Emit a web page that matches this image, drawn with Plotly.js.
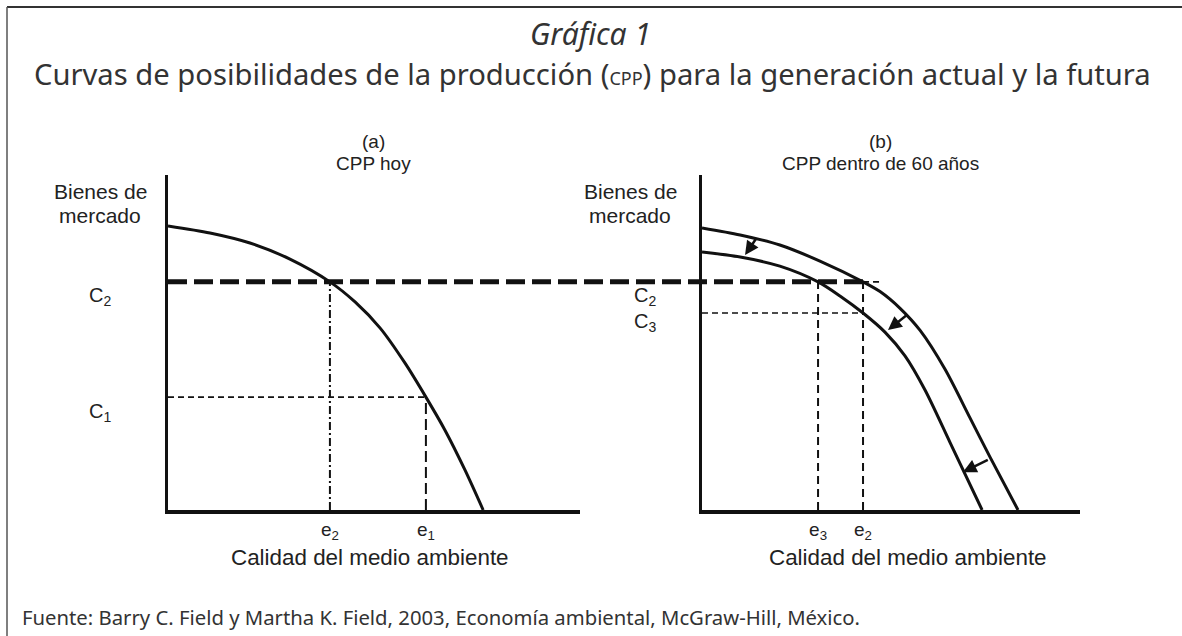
<!DOCTYPE html>
<html>
<head>
<meta charset="utf-8">
<script src="https://cdn.plot.ly/plotly-3.0.1.min.js"></script>
<style>html,body{margin:0;padding:0;background:#fff;}#chart{width:1182px;height:636px;}</style>
</head>
<body>
<div id="chart"></div>
<script>
// ---------- DATA ----------
// Panel (a): CPP hoy
const leftX = [0, 1.02, 1.99, 2.96, 3.93, 4.54, 5.15, 5.75, 6.26, 6.72, 7.21, 7.65];
const leftY = [8.48, 8.27, 7.97, 7.49, 6.81, 6.21, 5.43, 4.39, 3.37, 2.39, 1.19, 0];
const C2 = 6.81, C1 = 3.37;
const e2 = 3.93, e1 = 6.26;

// Panel (b): CPP dentro de 60 años
const outerX = [0, 1.01, 2.06, 3.12, 4.26, 4.71, 5.24, 5.77, 6.43, 7.09, 7.62, 8.36];
const outerY = [8.42, 8.21, 7.91, 7.43, 6.81, 6.52, 6.02, 5.36, 4.20, 2.75, 1.58, 0];
const innerX = [0, 1.01, 2.06, 3.07, 3.65, 4.26, 4.84, 5.37, 5.90, 6.56, 7.41];
const innerY = [7.70, 7.55, 7.28, 6.81, 6.39, 5.88, 5.31, 4.60, 3.58, 2.02, 0];
const C3 = 5.88;
const e3 = 3.07, e2b = 4.26;
const c2ExtEnd = 4.72;

// Shift arrows (tail -> head)
const arrowTailX = [1.46, 5.45, 7.60];
const arrowTailY = [8.15, 5.85, 1.52];
const arrowHeadX = [1.14, 4.92, 6.90];
const arrowHeadY = [7.61, 5.37, 1.13];

// Text
const titleTop = 'Gráfica 1';
const titleMain = 'Curvas de posibilidades de la producción (<span style="font-size:18px">CPP</span>) para la generación actual y la futura';
const panelTags = ['(a)', '(b)'];
const panelTitles = ['CPP hoy', 'CPP dentro de 60 años'];
const yLabelLines = ['Bienes de', 'mercado'];
const xLabel = 'Calidad del medio ambiente';
const leftTicks = ['e<sub>2</sub>', 'e<sub>1</sub>'];
const rightTicks = ['e<sub>3</sub>', 'e<sub>2</sub>'];
const source = 'Fuente: Barry C. Field y Martha K. Field, 2003, Economía ambiental, McGraw-Hill, México.';

// ---------- LAYOUT ----------
const W = 1182, H = 636;
const px = v => v / W;
const py = v => 1 - v / H;
const ink = '#111';
const chartFont = 'Liberation Sans, Arial, sans-serif';
const titleFont = 'Noto Sans, sans-serif';

const xDomL = [px(168), px(580)];
const xDomR = [px(702), px(1080)];
const yDom = [py(510), py(175)];
const xRange = [0, 10], yRange = [0, 10];

function paperX(dom, rng, v) {
  return dom[0] + (v - rng[0]) / (rng[1] - rng[0]) * (dom[1] - dom[0]);
}

const axisBase = {
  range: xRange, showgrid: false, zeroline: false, showline: true,
  linecolor: ink, linewidth: 3.5, ticks: '', fixedrange: true
};

const thin = {color: ink, width: 1.6, dash: '6px,4px'};
const curve = {color: ink, width: 3, shape: 'spline', smoothing: 0.8};
const traces = [
  {x: leftX, y: leftY, xaxis: 'x', yaxis: 'y', mode: 'lines', line: curve},
  {x: [e2, e2], y: [0, C2], xaxis: 'x', yaxis: 'y', mode: 'lines', line: {color: ink, width: 2, dash: '8px,3px,2px,3px'}},
  {x: [0, e1], y: [C1, C1], xaxis: 'x', yaxis: 'y', mode: 'lines', line: thin},
  {x: [e1, e1], y: [0, C1], xaxis: 'x', yaxis: 'y', mode: 'lines', line: {color: ink, width: 2, dash: '11px,5px'}},
  {x: outerX, y: outerY, xaxis: 'x2', yaxis: 'y2', mode: 'lines', line: curve},
  {x: innerX, y: innerY, xaxis: 'x2', yaxis: 'y2', mode: 'lines', line: curve},
  {x: [e3, e3], y: [0, C2], xaxis: 'x2', yaxis: 'y2', mode: 'lines', line: {color: ink, width: 2, dash: '8px,5px'}},
  {x: [e2b, e2b], y: [0, C2], xaxis: 'x2', yaxis: 'y2', mode: 'lines', line: {color: ink, width: 2, dash: '8px,5px'}},
  {x: [0, e2b], y: [C3, C3], xaxis: 'x2', yaxis: 'y2', mode: 'lines', line: thin},
  {x: [e2b, c2ExtEnd], y: [C2, C2], xaxis: 'x2', yaxis: 'y2', mode: 'lines', line: thin}
];

const annotations = [];
const txt = (text, x, y, size, extra) => Object.assign({
  text: text, x: x, y: y, xref: 'paper', yref: 'paper', showarrow: false,
  xanchor: 'center', yanchor: 'middle', font: {family: chartFont, size: size, color: '#222'}
}, extra || {});

annotations.push(txt('<i>' + titleTop + '</i>', px(590), py(34), 30, {font: {family: titleFont, size: 30, color: '#333'}}));
annotations.push(txt(titleMain, px(592), py(74), 29.2, {font: {family: titleFont, size: 29.2, color: '#333'}}));
annotations.push(txt(source, px(20), py(617), 20.3, {xanchor: 'left', font: {family: titleFont, size: 20.3, color: '#333'}}));

// panel headers
annotations.push(txt(panelTags[0], px(373), py(141), 19));
annotations.push(txt(panelTitles[0], px(373), py(163), 19));
annotations.push(txt(panelTags[1], px(880), py(141), 19));
annotations.push(txt(panelTitles[1], px(880), py(163), 19));

// y labels
annotations.push(txt(yLabelLines[0], px(100), py(192), 21));
annotations.push(txt(yLabelLines[1], px(100), py(215), 21));
annotations.push(txt(yLabelLines[0], px(630), py(192), 21));
annotations.push(txt(yLabelLines[1], px(630), py(215), 21));

// x labels
annotations.push(txt(xLabel, px(370), py(557), 22.4));
annotations.push(txt(xLabel, px(908), py(557), 22.4));

// C labels
const cLab = (text, xr, yr, y, xs, ys) => ({
  text: text, x: 0, y: y, xref: xr, yref: yr, showarrow: false, xanchor: 'center', yanchor: 'middle',
  xshift: xs, yshift: ys, font: {family: chartFont, size: 20, color: '#222'}
});
annotations.push(cLab('C<sub>2</sub>', 'x', 'y', C2, -68, -15));
annotations.push(cLab('C<sub>1</sub>', 'x', 'y', C1, -68, -15));
annotations.push(cLab('C<sub>2</sub>', 'x2', 'y2', C2, -57, -15));
annotations.push(cLab('C<sub>3</sub>', 'x2', 'y2', C3, -57, -9));

// arrows
for (let i = 0; i < arrowTailX.length; i++) {
  annotations.push({
    x: arrowHeadX[i], y: arrowHeadY[i], ax: arrowTailX[i], ay: arrowTailY[i],
    xref: 'x2', yref: 'y2', axref: 'x2', ayref: 'y2', text: '', showarrow: true,
    arrowhead: 2, arrowsize: 1.1, arrowwidth: 2.5, arrowcolor: ink, standoff: 0
  });
}

const shapes = [
  // frame
  {type: 'line', xref: 'paper', yref: 'paper', x0: px(7), x1: 1, y0: py(7), y1: py(7), line: {color: '#333', width: 2}},
  {type: 'line', xref: 'paper', yref: 'paper', x0: px(7), x1: px(7), y0: py(7), y1: 0, line: {color: '#555', width: 1.5}},
  // thick dashed C2 line across both panels
  {type: 'line', xref: 'paper', yref: 'y', layer: 'above',
   x0: paperX(xDomL, xRange, 0), x1: paperX(xDomR, xRange, e2b), y0: C2, y1: C2,
   line: {color: ink, width: 5, dash: '19px,7px'}}
];

const tickFont = {family: chartFont, size: 19, color: '#222'};
const layout = {
  width: W, height: H, margin: {l: 0, r: 0, t: 0, b: 0},
  paper_bgcolor: '#fff', plot_bgcolor: 'rgba(0,0,0,0)', showlegend: false,
  xaxis: Object.assign({}, axisBase, {domain: xDomL, anchor: 'y', tickvals: [e2, e1], ticktext: leftTicks, tickfont: tickFont}),
  yaxis: Object.assign({}, axisBase, {domain: yDom, range: yRange, anchor: 'x', showticklabels: false}),
  xaxis2: Object.assign({}, axisBase, {domain: xDomR, anchor: 'y2', tickvals: [e3, e2b], ticktext: rightTicks, tickfont: tickFont}),
  yaxis2: Object.assign({}, axisBase, {domain: yDom, range: yRange, anchor: 'x2', showticklabels: false}),
  annotations: annotations, shapes: shapes
};

Plotly.newPlot('chart', traces, layout, {displayModeBar: false, staticPlot: true});
</script>
</body>
</html>
